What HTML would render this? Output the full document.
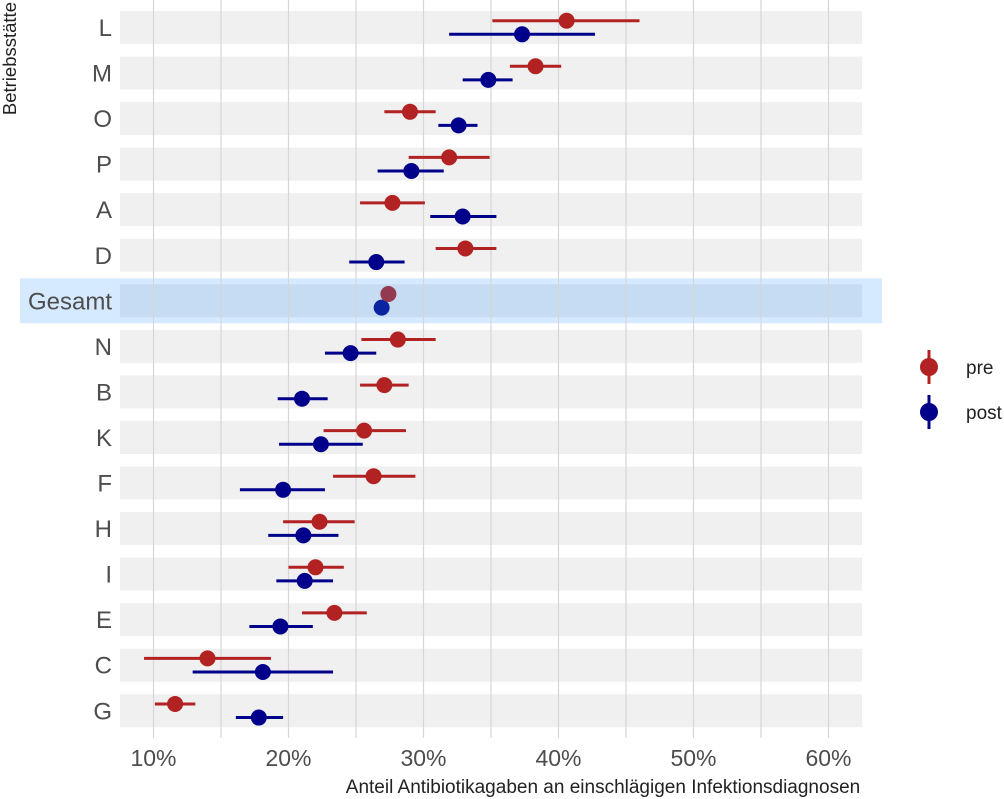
<!DOCTYPE html>
<html><head><meta charset="utf-8"><style>
body{margin:0;background:#fff}
svg{display:block;font-family:"Liberation Sans",sans-serif}
</style></head><body>
<svg id="chart" width="1004" height="799" viewBox="0 0 1004 799"></svg>
<script>
const categories=["L","M","O","P","A","D","Gesamt","N","B","K","F","H","I","E","C","G"];
const preVal=[40.6,38.3,29.0,31.9,27.7,33.1,27.4,28.1,27.1,25.6,26.3,22.3,22.0,23.4,14.0,11.6];
const preLo=[35.1,36.4,27.1,28.9,25.3,30.9,null,25.4,25.3,22.6,23.3,19.6,20.0,21.0,9.3,10.1];
const preHi=[46.0,40.2,30.9,34.9,30.1,35.4,null,30.9,28.9,28.7,29.4,24.9,24.1,25.8,18.7,13.1];
const postVal=[37.3,34.8,32.6,29.1,32.9,26.5,26.9,24.6,21.0,22.4,19.6,21.1,21.2,19.4,18.1,17.8];
const postLo=[31.9,32.9,31.1,26.6,30.5,24.5,null,22.7,19.2,19.3,16.4,18.5,19.1,17.1,12.9,16.1];
const postHi=[42.7,36.6,34.0,31.5,35.4,28.6,null,26.5,22.9,25.5,22.7,23.7,23.3,21.8,23.3,19.6];
const xTicks=[10,20,30,40,50,60];
const xMinor=[15,25,35,45,55];

const NS="http://www.w3.org/2000/svg";
const svg=document.getElementById('chart');
const X=v=>153.5+(v-10)*13.5;
const Y=i=>27.5+45.55*i;
function mk(t,a,p){const e=document.createElementNS(NS,t);for(const k in a)e.setAttribute(k,a[k]);(p||svg).appendChild(e);return e;}

categories.forEach((c,i)=>{
  const hl=c==="Gesamt";
  if(hl){
    const h=mk('rect',{x:20,y:Y(i)-22.5,width:862,height:45,fill:'#d6eaff'});
    
    
  }
  const b=mk('rect',{x:120,y:Y(i)-16.5,width:742,height:33,fill:hl?'#c5dcf2':'#f0f0f0'});
  
  
  const t=mk('text',{x:112,y:Y(i)+8.5,'text-anchor':'end','font-size':24,fill:'#4d4d4d'});
  t.textContent=c;
  
  
});
xMinor.concat(xTicks).forEach(v=>{
  const g=mk('line',{x1:X(v),x2:X(v),y1:0,y2:738,stroke:'#d6d6d6','stroke-width':1.2});
  
  
});
xTicks.forEach(v=>{
  const t=mk('text',{x:X(v),y:766,'text-anchor':'middle','font-size':23,fill:'#4d4d4d'});
  t.textContent=v+'%';
  
  
});
function series(vals,lo,hi,col,off,name,gcol){
  vals.forEach((v,i)=>{
    const y=Y(i)+off;
    if(lo[i]!=null){
      const l=mk('line',{x1:X(lo[i]),x2:X(hi[i]),y1:y,y2:y,stroke:col,'stroke-width':3});
      
      
    }
    const d=mk('circle',{cx:X(v),cy:y,r:8,fill:categories[i]==="Gesamt"?gcol:col});
    
    
  });
}
series(postVal,postLo,postHi,'#00008b',6.8,'post','#0a24a0');
series(preVal,preLo,preHi,'#b22222',-6.8,'pre','#933a50');

const xt=mk('text',{x:603,y:793,'text-anchor':'middle','font-size':19,fill:'#222'});
xt.textContent='Anteil Antibiotikagaben an einschlägigen Infektionsdiagnosen';


const yt=mk('text',{x:0,y:0,'text-anchor':'end','font-size':18.5,fill:'#222',transform:'translate(16,2) rotate(-90)'});
yt.textContent='Betriebsstätte';



[['pre','#b22222',367],['post','#00008b',412]].forEach(([n,c,y])=>{
  const g=mk('g',{});
  
  
  mk('line',{x1:929,x2:929,y1:y-17,y2:y+17,stroke:c,'stroke-width':3},g);
  mk('circle',{cx:929,cy:y,r:9,fill:c},g);
  const t=mk('text',{x:966,y:y+7,'font-size':19,fill:'#222'},g);
  t.textContent=n;
});
</script>
</body></html>
